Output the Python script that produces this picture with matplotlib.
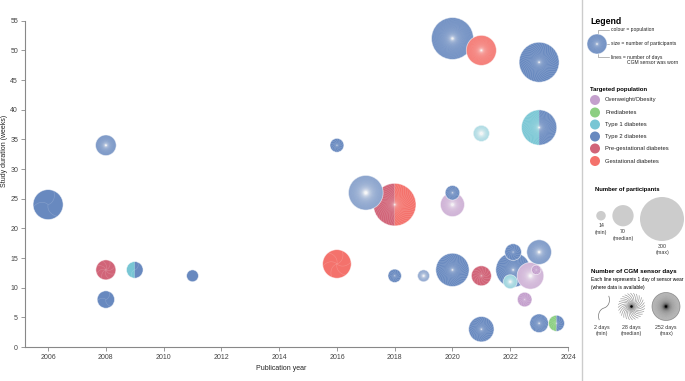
import numpy as np
import matplotlib.pyplot as plt
from matplotlib.patches import Circle, Wedge
from matplotlib.collections import LineCollection
from matplotlib.transforms import IdentityTransform

plt.rcParams['font.family'] = ['Liberation Sans', 'DejaVu Sans']

# %% data
year = [2006, 2008, 2008, 2008, 2009, 2011, 2016, 2016, 2017, 2018, 2018, 2019,
        2020, 2021, 2020, 2020, 2020, 2021, 2021, 2021, 2023, 2023, 2022.1, 2023,
        2022.1, 2022.7, 2022.9, 2022, 2022.5, 2023, 2023.6]
weeks = [24, 34, 13, 8, 13, 12, 34, 14, 26, 24, 12, 12,
         52, 50, 26, 24, 13, 12, 3, 36, 48, 37, 16, 16,
         13, 12, 13, 11, 8, 4, 4]
participants = [140, 66, 62, 47, 43, 22, 30, 127, 186, 281, 28, 22,
                273, 140, 33, 89, 172, 62, 100, 40, 248, 193, 43, 94,
                186, 110, 14, 30, 33, 54, 40]
# left half / right half population (same when not split)
pop_left = ['T2', 'T2', 'PG', 'T2', 'T1', 'T2', 'T2', 'GD', 'T2', 'PG', 'T2', 'T2',
            'T2', 'GD', 'T2', 'OW', 'T2', 'PG', 'T2', 'T1', 'T2', 'T1', 'T2', 'T2',
            'T2', 'OW', 'OW', 'T1', 'OW', 'T2', 'PD']
pop_right = ['T2', 'T2', 'PG', 'T2', 'T2', 'T2', 'T2', 'GD', 'T2', 'GD', 'T2', 'T2',
             'T2', 'GD', 'T2', 'OW', 'T2', 'PG', 'T2', 'T1', 'T2', 'T2', 'T2', 'T2',
             'T2', 'OW', 'OW', 'T1', 'OW', 'T2', 'T2']
cgm_days = [3, 70, 8, 3, 2, 0, 14, 6, 200, 42, 14, 84,
            90, 70, 20, 120, 40, 14, 28, 180, 42, 50, 14, 100,
            40, 150, 10, 100, 14, 28, 14]

pop_keys = ['OW', 'PD', 'T1', 'T2', 'PG', 'GD']
pop_labels = ['Overweight/Obesity', 'Prediabetes', 'Type 1 diabetes', 'Type 2 diabetes',
              'Pre-gestational diabetes', 'Gestational diabetes']
pop_colors = ['#c4a0cd', '#8ccf82', '#78c6d4', '#6889bf', '#d16478', '#f4726c']
col = dict(zip(pop_keys, pop_colors))

W, H = 685, 381
ID = IdentityTransform()


def px(x, y):
    # pixel position measured from the top-left corner
    return x, H - y


def radius(n):
    return 22 * np.sqrt(n / 300)


def spokes(cx, cy, r, n, color, alpha, lw=0.4, z=3):
    if n <= 0:
        return
    t = np.linspace(0, 1, 20)
    segs = []
    for k in range(n):
        th = 2 * np.pi * k / n + 0.3 + 0.9 * t
        segs.append(np.column_stack([cx + r * t * np.cos(th), cy + r * t * np.sin(th)]))
    fig.add_artist(LineCollection(segs, colors=color, alpha=alpha, linewidths=lw,
                                  transform=ID, zorder=z))


def bubble(cx, cy, r, c1, c2, days, z):
    if c1 == c2:
        fig.add_artist(Circle((cx, cy), r, fc=c1, ec='none', transform=ID, zorder=z))
    else:
        fig.add_artist(Wedge((cx, cy), r, 90, 270, fc=c1, ec='none', transform=ID, zorder=z))
        fig.add_artist(Wedge((cx, cy), r, -90, 90, fc=c2, ec='none', transform=ID, zorder=z))
    spokes(cx, cy, r, days, 'white', 0.2, z=z + 0.1)
    fig.add_artist(Circle((cx, cy), r, fc='none', ec='white', lw=0.6, alpha=0.6,
                          transform=ID, zorder=z + 0.2))


# %% axes
fig = plt.figure(figsize=(W / 100, H / 100), dpi=100)
ax = fig.add_axes([25 / W, 1 - 347 / H, (568 - 25) / W, (347 - 20.7) / H])
ax.set_xlim(2005.2, 2024)
ax.set_ylim(0, 55)
ax.set_xticks(range(2006, 2025, 2))
ax.set_yticks(range(0, 56, 5))
for s in ['top', 'right']:
    ax.spines[s].set_visible(False)
for s in ['left', 'bottom']:
    ax.spines[s].set_color('#888888')
    ax.spines[s].set_linewidth(0.8)
ax.tick_params(length=3, width=0.6, color='#888888', labelsize=5, labelcolor='#444444', pad=2)
ax.patch.set_visible(False)

fig.text(5 / W, 1 - 151 / H, 'Study duration (weeks)', rotation=90, fontsize=5,
         color='#222222', ha='center', va='center')
fig.text(281 / W, 1 - 368 / H, 'Publication year', fontsize=5, color='#222222',
         ha='center', va='center')

# %% bubbles, largest first
centers = ax.transData.transform(np.column_stack([year, weeks]))
order = np.argsort([-p for p in participants])
for i, j in enumerate(order):
    cx, cy = centers[j]
    bubble(cx, cy, radius(participants[j]), col[pop_left[j]], col[pop_right[j]],
           cgm_days[j], 2 + i * 0.5)

# %% legend panel
fig.add_artist(plt.Line2D([582, 582], [0, H], color='#cccccc', lw=1, transform=ID))

fig.text(590 / W, 1 - 22 / H, 'Legend', fontsize=6.3, weight='bold', va='center')
bx, by = px(597, 44)
bubble(bx, by, 10, col['T2'], col['T2'], 40, 50)
lc = '#999999'
fig.add_artist(plt.Line2D([598, 598, 609], [H - 34, H - 30, H - 30], color=lc, lw=0.5, transform=ID))
fig.add_artist(plt.Line2D([601, 609], [H - 44, H - 44], color=lc, lw=0.5, transform=ID))
fig.add_artist(plt.Line2D([598, 598, 609], [H - 54, H - 57, H - 57], color=lc, lw=0.5, transform=ID))
small = dict(fontsize=3.6, color='#222222', va='center')
fig.text(611 / W, 1 - 30 / H, 'colour = population', **small)
fig.text(611 / W, 1 - 44 / H, 'size = number of participants', **small)
fig.text(611 / W, 1 - 57 / H, 'lines = number of days', **small)
fig.text(627 / W, 1 - 63 / H, 'CGM sensor was worn', **small)

fig.text(590 / W, 1 - 89 / H, 'Targeted population', fontsize=4.3, weight='bold', va='center')
sw_y = [100, 112.5, 124.5, 136.5, 148.5, 161]
for c, lab, yy in zip(pop_colors, pop_labels, sw_y):
    x0, y0 = px(595, yy)
    fig.add_artist(Circle((x0, y0), 5, fc=c, ec='none', transform=ID, zorder=50))
    fig.text(605 / W, 1 - yy / H, lab, fontsize=4.2, color='#222222', va='center')

fig.text(595 / W, 1 - 189 / H, 'Number of participants', fontsize=4.2, weight='bold', va='center')
size_n = [14, 70, 300]
size_lab = ['14\n(min)', '70\n(median)', '300\n(max)']
size_x = [601, 623, 662]
size_y = [215.7, 215.7, 219]
for n, lab, xx, yy in zip(size_n, size_lab, size_x, size_y):
    x0, y0 = px(xx, yy)
    r = radius(n)
    fig.add_artist(Circle((x0, y0), r, fc='#cccccc', ec='none', transform=ID, zorder=50))
    fig.text(xx / W, 1 - (yy + r + 3) / H, lab, fontsize=3.8, color='#333333',
             ha='center', va='top', linespacing=1.3)

fig.text(591 / W, 1 - 272 / H, 'Number of CGM sensor days', fontsize=4.5, weight='bold', va='center')
fig.text(591 / W, 1 - 280 / H, 'Each line represents 1 day of sensor wear', fontsize=3.5, va='center')
fig.text(591 / W, 1 - 287 / H, '(where data is available)', fontsize=3.5, va='center')

x0, y0 = px(604, 308)
spokes(x0, y0, 13, 2, '#666666', 0.9, lw=0.5, z=50)
x0, y0 = px(631.5, 306.5)
spokes(x0, y0, 13.5, 28, '#555555', 0.7, lw=0.4, z=50)
fig.add_artist(Circle((x0, y0), 1.2, fc='black', ec='none', transform=ID, zorder=51))
x0, y0 = px(666, 306.5)
fig.add_artist(Circle((x0, y0), 14, fc='#d8d8d8', ec='#999999', lw=0.5, transform=ID, zorder=50))
spokes(x0, y0, 14, 252, 'black', 0.07, lw=0.4, z=51)

for xx, lab in zip([602, 631.5, 666], ['2 days\n(min)', '28 days\n(median)', '252 days\n(max)']):
    fig.text(xx / W, 1 - 325 / H, lab, fontsize=3.8, color='#333333', ha='center',
             va='top', linespacing=1.3)

fig.savefig('out.png', dpi=100)
